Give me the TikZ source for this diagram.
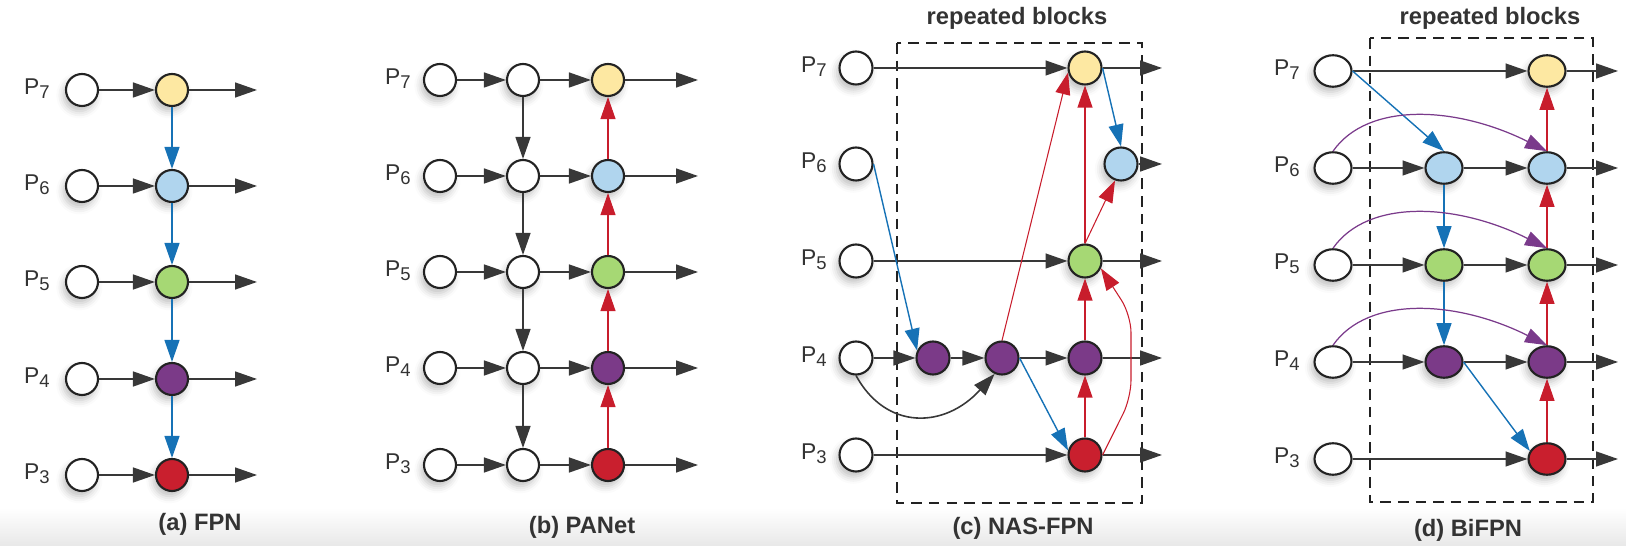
\documentclass[tikz,border=0pt]{standalone}
\usepackage{fontspec}
\setmainfont{Liberation Sans}
\usetikzlibrary{arrows.meta, shapes.geometric, shadows.blur}
\definecolor{nodeYellow}{HTML}{FDE8A2}
\definecolor{nodeBlue}{HTML}{B0D5EE}
\definecolor{nodeGreen}{HTML}{A6D874}
\definecolor{nodePurple}{HTML}{7B3A88}
\definecolor{nodeRed}{HTML}{C91F2E}
\definecolor{nodeBorder}{HTML}{222222}
\definecolor{arrowBlue}{HTML}{1672B6}
\definecolor{arrowRed}{HTML}{C81D2C}
\definecolor{arrowPurple}{HTML}{7A3A8B}
\definecolor{lineGray}{HTML}{383838}
\definecolor{textGray}{HTML}{333333}
\newcommand{\psub}[1]{\raisebox{-2.2pt}{\fontsize{10.5}{12}\selectfont #1}}
\tikzstyle{fLabel} = [anchor=base east, inner sep=0pt, text=textGray, font=\fontsize{13}{15}\selectfont]
\tikzstyle{fCaption} = [inner sep=0pt, text=textGray, font=\bfseries\fontsize{13.5}{16}\selectfont]
\tikzstyle{fNode} = [circle, draw=nodeBorder, line width=1.2pt, minimum size=0.64cm, inner sep=0pt, fill=white, blur shadow={shadow xshift=-1.5pt, shadow yshift=-3pt, shadow blur radius=4pt, shadow opacity=25}]
\tikzstyle{fBig} = [minimum size=0.66cm]
\tikzstyle{fEll} = [ellipse, minimum width=0.74cm, minimum height=0.63cm]
\tikzstyle{fWhite} = [fNode]
\tikzstyle{fYellow} = [fNode, fill=nodeYellow]
\tikzstyle{fBlue} = [fNode, fill=nodeBlue]
\tikzstyle{fGreen} = [fNode, fill=nodeGreen]
\tikzstyle{fPurple} = [fNode, fill=nodePurple]
\tikzstyle{fRed} = [fNode, fill=nodeRed]
\tikzstyle{fBlock} = [draw=nodeBorder, line width=1.1pt, dash pattern=on 6pt off 4pt]
\tikzstyle{fArrow} = [line width=0.9pt, draw=lineGray, -{Triangle[length=12.5pt, width=8.5pt]}]
\tikzstyle{fBlueArrow} = [line width=0.8pt, draw=arrowBlue, -{Triangle[length=12.5pt, width=8.5pt]}]
\tikzstyle{fRedArrow} = [line width=0.6pt, draw=arrowRed, -{Triangle[length=12.5pt, width=8.5pt]}]
\tikzstyle{fPurpleArrow} = [line width=0.7pt, draw=arrowPurple, -{Triangle[length=12.5pt, width=8.5pt]}]
\begin{document}
\begin{tikzpicture}[x=0.02cm, y=-0.02cm]
    \useasboundingbox (0,0) rectangle (1626,546);
    \fill [top color=white, bottom color=black!9] (0,508) rectangle (1626,546);

    \node (fpnLab7) [fLabel] at (50,95) {P\psub{7}};
    \node (fpnLab6) [fLabel] at (50,191) {P\psub{6}};
    \node (fpnLab5) [fLabel] at (50,287) {P\psub{5}};
    \node (fpnLab4) [fLabel] at (50,384) {P\psub{4}};
    \node (fpnLab3) [fLabel] at (50,480) {P\psub{3}};
    \node (fpnIn7) [fWhite] at (82,90) {};
    \node (fpnIn6) [fWhite] at (82,186) {};
    \node (fpnIn5) [fWhite] at (82,282) {};
    \node (fpnIn4) [fWhite] at (82,379) {};
    \node (fpnIn3) [fWhite] at (82,475) {};
    \node (fpnFuse7) [fYellow] at (172,90) {};
    \node (fpnFuse6) [fBlue] at (172,186) {};
    \node (fpnFuse5) [fGreen] at (172,282) {};
    \node (fpnFuse4) [fPurple] at (172,379) {};
    \node (fpnFuse3) [fRed] at (172,475) {};
    \coordinate (fpnEnd) at (257,0);
    \node (fpnCaption) [fCaption] at (200,524) {(a) FPN};

    \node (panLab7) [fLabel] at (411,85) {P\psub{7}};
    \node (panLab6) [fLabel] at (411,181) {P\psub{6}};
    \node (panLab5) [fLabel] at (411,277) {P\psub{5}};
    \node (panLab4) [fLabel] at (411,373) {P\psub{4}};
    \node (panLab3) [fLabel] at (411,470) {P\psub{3}};
    \node (panIn7) [fWhite] at (440,80) {};
    \node (panIn6) [fWhite] at (440,176) {};
    \node (panIn5) [fWhite] at (440,272) {};
    \node (panIn4) [fWhite] at (440,368) {};
    \node (panIn3) [fWhite] at (440,465) {};
    \node (panDown7) [fWhite] at (523,80) {};
    \node (panDown6) [fWhite] at (523,176) {};
    \node (panDown5) [fWhite] at (523,272) {};
    \node (panDown4) [fWhite] at (523,368) {};
    \node (panDown3) [fWhite] at (523,465) {};
    \node (panUp7) [fYellow] at (608,80) {};
    \node (panUp6) [fBlue] at (608,176) {};
    \node (panUp5) [fGreen] at (608,272) {};
    \node (panUp4) [fPurple] at (608,368) {};
    \node (panUp3) [fRed] at (608,465) {};
    \coordinate (panEnd) at (698,0);
    \node (panCaption) [fCaption] at (582,527) {(b) PANet};

    \draw [fBlock] (897,43) rectangle (1142,503);
    \node (nasTitle) [fCaption] at (1017,18) {repeated blocks};
    \node (nasLab7) [fLabel] at (827,73) {P\psub{7}};
    \node (nasLab6) [fLabel] at (827,169) {P\psub{6}};
    \node (nasLab5) [fLabel] at (827,266) {P\psub{5}};
    \node (nasLab4) [fLabel] at (827,363) {P\psub{4}};
    \node (nasLab3) [fLabel] at (827,460) {P\psub{3}};
    \node (nasIn7) [fWhite, fBig] at (856,68) {};
    \node (nasIn6) [fWhite, fBig] at (856,164) {};
    \node (nasIn5) [fWhite, fBig] at (856,261) {};
    \node (nasIn4) [fWhite, fBig] at (856,358) {};
    \node (nasIn3) [fWhite, fBig] at (856,455) {};
    \node (nasYellow) [fYellow, fBig] at (1085,68) {};
    \node (nasBlue) [fBlue, fBig] at (1121,164) {};
    \node (nasGreen) [fGreen, fBig] at (1085,261) {};
    \node (nasP4a) [fPurple, fBig] at (933,358) {};
    \node (nasP4b) [fPurple, fBig] at (1002,358) {};
    \node (nasP4c) [fPurple, fBig] at (1085,358) {};
    \node (nasRed) [fRed, fBig] at (1085,455) {};
    \coordinate (nasEnd) at (1162,0);
    \coordinate (nasBendLow) at (1131,398);
    \coordinate (nasBendHigh) at (1131,315);
    \node (nasCaption) [fCaption] at (1023,528) {(c) NAS-FPN};

    \draw [fBlock] (1370,38) rectangle (1593,502);
    \node (biTitle) [fCaption] at (1490,18) {repeated blocks};
    \node (biLab7) [fLabel] at (1300,76) {P\psub{7}};
    \node (biLab6) [fLabel] at (1300,173) {P\psub{6}};
    \node (biLab5) [fLabel] at (1300,270) {P\psub{5}};
    \node (biLab4) [fLabel] at (1300,367) {P\psub{4}};
    \node (biLab3) [fLabel] at (1300,464) {P\psub{3}};
    \node (biIn7) [fWhite, fEll] at (1333,71) {};
    \node (biIn6) [fWhite, fEll] at (1333,168) {};
    \node (biIn5) [fWhite, fEll] at (1333,265) {};
    \node (biIn4) [fWhite, fEll] at (1333,362) {};
    \node (biIn3) [fWhite, fEll] at (1333,459) {};
    \node (biMid6) [fBlue, fEll] at (1444,168) {};
    \node (biMid5) [fGreen, fEll] at (1444,265) {};
    \node (biMid4) [fPurple, fEll] at (1444,362) {};
    \node (biOut7) [fYellow, fEll] at (1547,71) {};
    \node (biOut6) [fBlue, fEll] at (1547,168) {};
    \node (biOut5) [fGreen, fEll] at (1547,265) {};
    \node (biOut4) [fPurple, fEll] at (1547,362) {};
    \node (biOut3) [fRed, fEll] at (1547,459) {};
    \coordinate (biEnd) at (1618,0);
    \node (biCaption) [fCaption] at (1468,530) {(d) BiFPN};

    \draw [fArrow] (fpnIn7) -- (fpnFuse7);
    \draw [fArrow] (fpnIn6) -- (fpnFuse6);
    \draw [fArrow] (fpnIn5) -- (fpnFuse5);
    \draw [fArrow] (fpnIn4) -- (fpnFuse4);
    \draw [fArrow] (fpnIn3) -- (fpnFuse3);
    \draw [fArrow] (fpnFuse7) -- (fpnFuse7 -| fpnEnd);
    \draw [fArrow] (fpnFuse6) -- (fpnFuse6 -| fpnEnd);
    \draw [fArrow] (fpnFuse5) -- (fpnFuse5 -| fpnEnd);
    \draw [fArrow] (fpnFuse4) -- (fpnFuse4 -| fpnEnd);
    \draw [fArrow] (fpnFuse3) -- (fpnFuse3 -| fpnEnd);
    \draw [fBlueArrow] (fpnFuse7) -- (fpnFuse6);
    \draw [fBlueArrow] (fpnFuse6) -- (fpnFuse5);
    \draw [fBlueArrow] (fpnFuse5) -- (fpnFuse4);
    \draw [fBlueArrow] (fpnFuse4) -- (fpnFuse3);

    \draw [fArrow] (panIn7) -- (panDown7);
    \draw [fArrow] (panIn6) -- (panDown6);
    \draw [fArrow] (panIn5) -- (panDown5);
    \draw [fArrow] (panIn4) -- (panDown4);
    \draw [fArrow] (panIn3) -- (panDown3);
    \draw [fArrow] (panDown7) -- (panUp7);
    \draw [fArrow] (panDown6) -- (panUp6);
    \draw [fArrow] (panDown5) -- (panUp5);
    \draw [fArrow] (panDown4) -- (panUp4);
    \draw [fArrow] (panDown3) -- (panUp3);
    \draw [fArrow] (panUp7) -- (panUp7 -| panEnd);
    \draw [fArrow] (panUp6) -- (panUp6 -| panEnd);
    \draw [fArrow] (panUp5) -- (panUp5 -| panEnd);
    \draw [fArrow] (panUp4) -- (panUp4 -| panEnd);
    \draw [fArrow] (panUp3) -- (panUp3 -| panEnd);
    \draw [fArrow] (panDown7) -- (panDown6);
    \draw [fArrow] (panDown6) -- (panDown5);
    \draw [fArrow] (panDown5) -- (panDown4);
    \draw [fArrow] (panDown4) -- (panDown3);
    \draw [fRedArrow] (panUp3) -- (panUp4);
    \draw [fRedArrow] (panUp4) -- (panUp5);
    \draw [fRedArrow] (panUp5) -- (panUp6);
    \draw [fRedArrow] (panUp6) -- (panUp7);

    \draw [fArrow] (nasIn7) -- (nasYellow);
    \draw [fArrow] (nasIn5) -- (nasGreen);
    \draw [fArrow] (nasIn3) -- (nasRed);
    \draw [fArrow] (nasIn4) -- (nasP4a);
    \draw [fArrow] (nasP4a) -- (nasP4b);
    \draw [fArrow] (nasP4b) -- (nasP4c);
    \draw [fArrow] (nasIn4.south) .. controls +(30,55) and +(-50,55) .. (nasP4b.-115);
    \draw [fArrow] (nasYellow) -- (nasYellow -| nasEnd);
    \draw [fArrow] (nasBlue) -- (nasBlue -| nasEnd);
    \draw [fArrow] (nasGreen) -- (nasGreen -| nasEnd);
    \draw [fArrow] (nasP4c) -- (nasP4c -| nasEnd);
    \draw [fArrow] (nasRed) -- (nasRed -| nasEnd);
    \draw [fBlueArrow] (nasIn6.east) -- (nasP4a.155);
    \draw [fBlueArrow] (nasP4b.east) -- (nasRed.165);
    \draw [fBlueArrow] (nasYellow.east) -- (nasBlue.north);
    \draw [fRedArrow] (nasP4b.north) -- (nasYellow.195);
    \draw [fRedArrow] (nasRed) -- (nasP4c);
    \draw [fRedArrow] (nasP4c) -- (nasGreen);
    \draw [fRedArrow] (nasGreen) -- (nasYellow);
    \draw [fRedArrow] (nasGreen.north) -- (nasBlue.250);
    \draw [fRedArrow, rounded corners=10pt] (nasRed.east) -- (nasBendLow) -- (nasBendHigh) -- (nasGreen.-25);

    \draw [fArrow] (biIn7) -- (biOut7);
    \draw [fArrow] (biIn6) -- (biMid6);
    \draw [fArrow] (biIn5) -- (biMid5);
    \draw [fArrow] (biIn4) -- (biMid4);
    \draw [fArrow] (biMid6) -- (biOut6);
    \draw [fArrow] (biMid5) -- (biOut5);
    \draw [fArrow] (biMid4) -- (biOut4);
    \draw [fArrow] (biIn3) -- (biOut3);
    \draw [fArrow] (biOut7) -- (biOut7 -| biEnd);
    \draw [fArrow] (biOut6) -- (biOut6 -| biEnd);
    \draw [fArrow] (biOut5) -- (biOut5 -| biEnd);
    \draw [fArrow] (biOut4) -- (biOut4 -| biEnd);
    \draw [fArrow] (biOut3) -- (biOut3 -| biEnd);
    \draw [fBlueArrow] (biIn7.east) -- (biMid6.north);
    \draw [fBlueArrow] (biMid6) -- (biMid5);
    \draw [fBlueArrow] (biMid5) -- (biMid4);
    \draw [fBlueArrow] (biMid4.east) -- (biOut3.155);
    \draw [fRedArrow] (biOut3) -- (biOut4);
    \draw [fRedArrow] (biOut4) -- (biOut5);
    \draw [fRedArrow] (biOut5) -- (biOut6);
    \draw [fRedArrow] (biOut6) -- (biOut7);
    \draw [fPurpleArrow] (biIn6.north) .. controls +(35,-50) and +(-90,-45) .. (biOut6.north);
    \draw [fPurpleArrow] (biIn5.north) .. controls +(35,-50) and +(-90,-45) .. (biOut5.north);
    \draw [fPurpleArrow] (biIn4.north) .. controls +(35,-50) and +(-90,-45) .. (biOut4.north);
\end{tikzpicture}
\end{document}
